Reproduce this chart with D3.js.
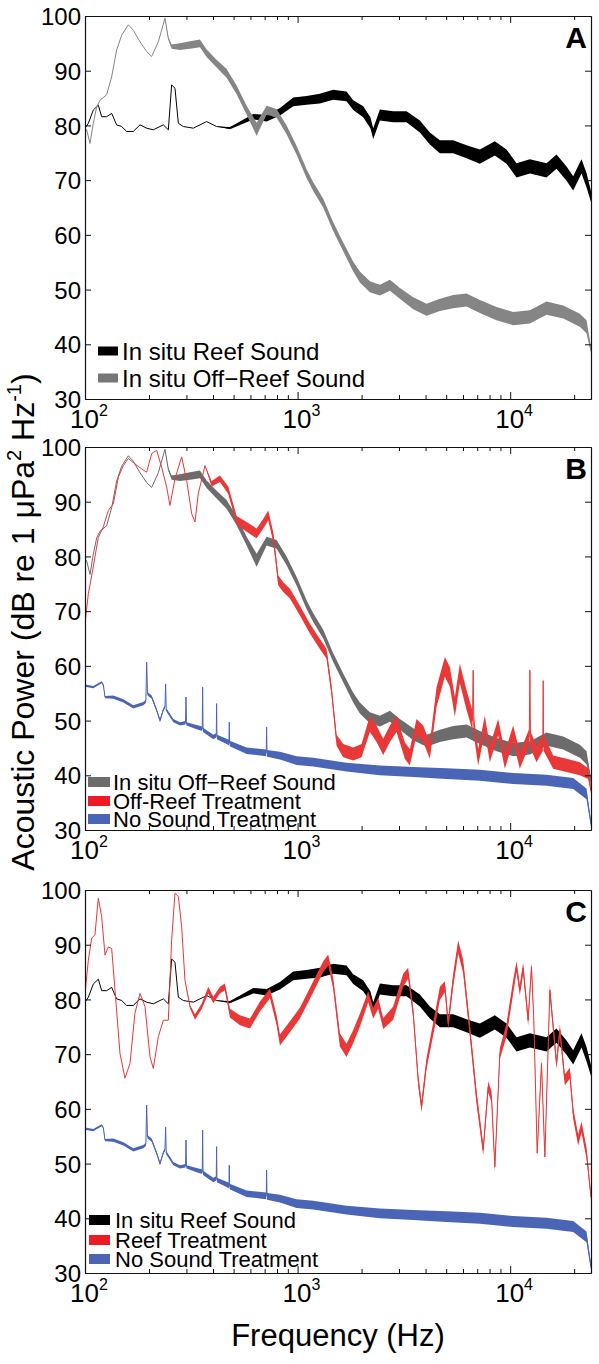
<!DOCTYPE html>
<html><head><meta charset="utf-8">
<script src="https://cdn.jsdelivr.net/npm/d3@7"></script>
<style>body{margin:0;background:#fff} text{font-family:"Liberation Sans", Arial, Helvetica, sans-serif;fill:#000}</style>
</head><body><svg id="c" width="599" height="1364"></svg>
<script>
// ---- data: [frequency Hz, level dB, noise half-spread dB] ----
const decades = [100, 1000, 10000];
const decadeExp = ["2", "3", "4"];
const yTicks = [30, 40, 50, 60, 70, 80, 90, 100];
const panelLetters = ["A", "B", "C"];

const reefSound = [[100,79.5,0],[103.7,80.4,0],[109.4,82.8,0],[115.5,83.7,0],[119.8,81.6,0],[126.4,81.6,0],[133.5,82.2,0],[140.9,80.1,0],[148.8,79.8,0],[157,78.9,0],[168.7,78.9,0],[181.4,80.1,0],[195,79.5,0],[209.6,79.2,0],[233.6,80.1,0],[246.6,79.2,0],[255.6,87.4,0],[265,86.8,0],[274.8,80.4,0],[290.1,79.8,0],[323.2,79.5,0],[373.4,80.7,0],[416,79.8,0],[480.6,79.5,0.2],[535.7,80.4,0.3],[618.9,81.6,0.5],[715,81.3,0.6],[826,82.5,0.7],[954.1,84.3,0.8],[1102,84.6,0.8],[1273,84.9,0.9],[1471,85.6,0.9],[1699,85.3,0.9],[1827,83.7,0.9],[2036,82.5,1],[2200,80.5,1],[2269,78.5,1],[2439,81.9,1],[2817,81.6,1],[3254,81.6,1],[3761,79.8,1.1],[4191,77.6,1.1],[4670,76.1,1.2],[5395,76.1,1.2],[6232,75.2,1.2],[7200,74.3,1.3],[8470,75.8,1.3],[9610,74.3,1.3],[10710,71.8,1.3],[12380,72.5,1.3],[14820,71.8,1.3],[16520,73.4,1.3],[18410,71.2,1.3],[19790,69.4,1.3],[21650,72.5,1.3],[22860,70,1.3],[24000,67,1]];

const offReefSound = [[100,79.5,0],[101.8,79.2,0],[105.6,76.7,0],[109.4,80.4,0],[113.5,83.4,0],[117.6,84.6,0],[126.4,85.6,0],[133.5,88.9,0],[140.9,93.8,0],[148.8,96.5,0],[159.9,98.4,0],[168.7,97.4,0],[181.4,95.3,0],[195,93.5,0],[205.9,92.6,0],[221.3,95.3,0],[237.8,99.6,0],[246.6,95.9,0.2],[255.6,94.4,0.4],[279.8,94.4,0.6],[311.8,94.7,0.7],[347.4,95,0.7],[373.4,93.2,0.7],[416,91.3,0.7],[463.6,89.5,0.8],[516.7,86.5,0.8],[575.8,82.8,0.8],[641.7,79.3,1.2],[715,82.8,0.8],[796.8,82.2,0.8],[887.8,79.2,0.8],[989,75.5,0.8],[1102,71.2,0.8],[1185,68.8,0.8],[1320,65.8,0.8],[1471,61.5,0.8],[1639,57.8,0.8],[1827,54.2,0.9],[1963,52.3,1],[2188,50.5,1],[2439,49.9,1],[2718,50.8,1],[3028,49.3,1],[3499,47.5,1.1],[4042,46.3,1.1],[4670,47.2,1.1],[5395,47.8,1.2],[6232,48.1,1.2],[7200,46.9,1.2],[8624,45.6,1.2],[10330,44.7,1.2],[12380,45,1.2],[14820,46.6,1.2],[17760,45.9,1.2],[21270,44.4,1.2],[22860,43.2,1.2],[24000,38.9,0.5]];

const noSound = [[100,56.4,0.2],[109.4,56.1,0.2],[119.8,57,0.2],[122,56.5,0.2],[124.2,54.3,0.2],[135.9,54.3,0.3],[151.5,53.6,0.3],[168.7,52.5,0.3],[188.1,53.1,0.3],[193.3,53.5,0.3],[195,60.7,0],[196.8,54.9,0.3],[205.9,54.3,0.3],[217.3,51.9,0.3],[225.3,50,0.3],[233.6,52,0.3],[237.8,52.5,0.2],[239.5,56.7,0],[241,52,0.3],[260.3,50,0.3],[279.8,49.4,0.3],[297,49.6,0.3],[298.6,54.3,0],[300.2,49.4,0.3],[335.1,48.8,0.4],[356,48.5,0.4],[357.6,56.1,0],[359.2,48.3,0.4],[401.3,47,0.4],[414.5,47.3,0.4],[416,53.1,0],[417.5,47,0.4],[475.5,46,0.5],[477.2,49.7,0],[479,45.8,0.5],[575.8,44.5,0.6],[712,44.1,0.6],[715,48.8,0],[718,44,0.6],[826,43.6,0.7],[989,42.7,0.8],[1185,42.4,0.8],[1699,41.5,0.8],[2439,40.9,0.9],[3499,40.6,0.9],[5018,40.3,1],[7200,40,1],[10330,39.4,1],[14820,39.1,1],[19790,38.5,1],[22860,36.6,1],[24000,31.1,0.5]];

const offReefTreatment = [[100,67.7,0],[103.7,73.2,0],[109.4,78.1,0],[115.5,83.5,0],[122,85.4,0],[128.7,88.4,0],[135.9,89.6,0],[143.5,94.5,0],[151.5,96.6,0],[159.9,97.9,0],[171.8,96.9,0],[184.7,96,0],[195,95.4,0],[205.9,98.8,0],[217.3,99.4,0],[229.4,96.3,0],[242.1,92.7,0],[251,89.3,0],[265,94.2,0],[284.9,98.2,0],[300.7,93.9,0],[317.5,87.8,0],[329.1,86.3,0],[341.2,91.5,0],[366.7,96.6,0],[394.1,93.3,0.5],[431.3,94.2,0.6],[472,92.1,0.7],[516.7,86.6,0.8],[575.8,85.4,0.9],[641.7,84.2,0.9],[689.8,86,0.9],[728,87.5,0.9],[768.6,83.5,0.9],[811.3,75.6,0.9],[856.4,74.4,0.9],[920.4,73.2,0.9],[1025.6,70.1,0.9],[1143,66.8,0.9],[1273.5,64,0.9],[1368.7,62.2,0.9],[1444.6,55.5,0.9],[1525,46.4,1],[1639,44.5,1.2],[1827,43.9,1.2],[1999,44.5,1.2],[2188,49.4,1.5],[2352,47.6,1.5],[2528,45.2,1.5],[2718,47.6,1.5],[2921,49.4,1.5],[3196,44.5,1.5],[3373,43.3,1.5],[3627,48.8,1.5],[3898,47.6,1.5],[4191,44.5,1.5],[4504,54.3,1.8],[4930,59.8,1.8],[5204,58,1.8],[5493,52.5,1.8],[5798,58.6,1.8],[6232,53.8,1.8],[6650,50,1.8],[6699,59.2,0],[6750,49,1.8],[7071,43.3,1.5],[7601,49.4,1.5],[8024,43.9,1.5],[8781,48.8,1.5],[9438,42.7,1.5],[10330,47.6,1.5],[11100,42.7,1.5],[12300,47,1.5],[12380,59.2,0],[12460,46.5,1.5],[13300,43.9,1.5],[14250,46,1.5],[14300,57.3,0],[14350,46,1.5],[15930,42.4,1.2],[18410,41.8,1.2],[21270,41.2,1.2],[23280,40.3,1],[24000,37.2,0.5]];

const reefTreatment = [[100,81.1,0],[103.7,87.2,0],[107.5,91.2,0],[111.4,91.8,0],[115.5,98.5,0],[119.8,95.1,0],[124.2,88.1,0],[128.7,89.6,0],[133.5,89.3,0],[138.4,81.7,0],[146.1,70.1,0],[154.2,65.6,0],[162.8,68.3,0],[171.8,77.5,0],[181.4,81.1,0],[191.5,78.7,0],[202.2,69.5,0],[209.6,67.4,0],[221.3,73.2,0],[233.6,76.2,0],[246.6,76.2,0],[255.6,90.9,0],[265,99.4,0],[274.8,98.8,0],[284.9,93.3,0],[295.3,83.5,0],[311.8,78.7,0.3],[329.1,76.8,0.5],[353.7,78.7,0.5],[380.2,81.7,0.6],[401.3,79.9,0.6],[431.3,81.7,0.6],[455.2,82.3,0.6],[480.6,77.5,0.8],[535.7,76.2,0.9],[597,75.6,0.9],[665.3,78.7,0.9],[741.4,81.1,0.9],[796.8,76.2,0.9],[826,72.6,1],[920.4,75,1],[1025.6,77.5,1],[1184.8,82.3,1],[1320.3,86,1],[1393.7,87.2,1],[1471,82.9,1],[1581,72.6,1.2],[1699,70.7,1.2],[1827,73.2,1.2],[1963.5,76.2,1.2],[2149,80.5,1],[2269,77.5,1],[2395,79.3,1],[2528,75.6,1],[2817,77.5,1.2],[3139,83.5,1.2],[3313,84.8,1],[3499,77.5,1],[3693,65.3,1],[3829,60.4,1],[4042,68.3,1],[4424,76.2,1.2],[4670,81.1,1.2],[4930,82.3,1],[5111,75.6,1],[5395,83.5,1.2],[5694,89.6,1.2],[6012,86,1.2],[6461,74.4,1.2],[6945,62.2,1.2],[7465,52.5,1],[7881,64,1],[8170,62.2,1],[8470,49.4,0.8],[8941,70.1,1],[9610,74.4,1.2],[10330,82.3,1.2],[10710,86,1],[11100,81.7,1],[11510,85.7,1],[12150,76.2,1],[12600,86,0.8],[12920,76.2,0.8],[13400,51.9,0.5],[14040,68.3,0.8],[14560,51.2,0.5],[15370,81.7,1],[16520,68.3,1],[17130,74.4,1],[18070,65.3,1],[19080,66.5,1],[19790,59.2,1],[20880,54.3,1],[21650,56.7,1],[22860,51.9,1],[24000,43.9,0.5]];

const seriesNames = {
  reef: "In situ Reef Sound",
  offReef: "In situ Off\u2212Reef Sound",
  offReefTreat: "Off-Reef Treatment",
  reefTreat: "Reef Treatment",
  noSound: "No Sound Treatment"
};

// ---- layout / style ----
const W = 599, H = 1364;
const left = 85, right = 591, ph = 383;
const panelTops = [16, 447, 890];
const colors = {black: "#000000", gray: "#858585", darkgray: "#6c6c6c", red: "#e83838", blue: "#4b65b6"};
const legendColors = {black: "#000000", gray: "#777777", darkgray: "#6c6c6c", red: "#ed1c24", blue: "#4b65b6"};

const panels = [
  {series: [[reefSound, "black", "reef"], [offReefSound, "gray", "offReef"]],
   legend: {font: 24, boxX: 98, boxW: 20, boxH: 9, textX: 122, rows: [335, 362]}},
  {series: [[offReefSound, "darkgray", "offReef"], [offReefTreatment, "red", "offReefTreat"], [noSound, "blue", "noSound"]],
   legend: {font: 22, boxX: 88, boxW: 22, boxH: 10, textX: 113, rows: [335, 354, 372]}},
  {series: [[reefSound, "black", "reef"], [reefTreatment, "red", "reefTreat"], [noSound, "blue", "noSound"]],
   legend: {font: 22, boxX: 89, boxW: 21, boxH: 10, textX: 115, rows: [330, 350, 369]}}
];

const svg = d3.select("#c");
svg.append("rect").attr("width", W).attr("height", H).attr("fill", "#fff");

const x = d3.scaleLog().domain([100, 24000]).range([left, right]);
const minors = [];
decades.forEach(d => { for (let m = 2; m <= 9; m++) { if (d * m <= 24000) minors.push(d * m); } });

panels.forEach((p, i) => {
  const top = panelTops[i];
  const y = d3.scaleLinear().domain([30, 100]).range([top + ph, top]);
  const g = svg.append("g");
  const clipId = "clip" + i;
  svg.append("clipPath").attr("id", clipId).append("rect")
    .attr("x", left).attr("y", top).attr("width", right - left).attr("height", ph);

  const plot = g.append("g").attr("clip-path", `url(#${clipId})`);
  const area = d3.area().x(d => x(d[0])).y0(d => y(d[1] - d[2])).y1(d => y(d[1] + d[2]));
  const line = d3.line().x(d => x(d[0])).y(d => y(d[1]));
  p.series.forEach(([data, col]) => {
    plot.append("path").datum(data).attr("d", area).attr("fill", colors[col]).attr("stroke", "none");
    plot.append("path").datum(data).attr("d", line).attr("fill", "none")
      .attr("stroke", colors[col]).attr("stroke-width", 1).attr("stroke-linejoin", "round");
  });

  // axes (inward ticks, boxed)
  const axStyle = sel => { sel.selectAll("path").attr("stroke", "#111").attr("stroke-width", 1.2);
                            sel.selectAll("line").attr("stroke", "#111").attr("stroke-width", 1); };
  g.append("g").attr("transform", `translate(0,${top + ph})`)
    .call(d3.axisBottom(x).tickValues(decades).tickSize(-7).tickSizeOuter(0).tickFormat("")).call(axStyle);
  g.append("g").attr("transform", `translate(0,${top + ph})`)
    .call(d3.axisBottom(x).tickValues(minors).tickSize(-4).tickSizeOuter(0).tickFormat("")).call(axStyle);
  g.append("g").attr("transform", `translate(0,${top})`)
    .call(d3.axisTop(x).tickValues(decades).tickSize(-7).tickSizeOuter(0).tickFormat("")).call(axStyle);
  g.append("g").attr("transform", `translate(0,${top})`)
    .call(d3.axisTop(x).tickValues(minors).tickSize(-4).tickSizeOuter(0).tickFormat("")).call(axStyle);
  const yl = g.append("g").attr("transform", `translate(${left},0)`)
    .call(d3.axisLeft(y).tickValues(yTicks).tickSize(-6).tickSizeOuter(0).tickPadding(4).tickFormat(d3.format("d")))
    .call(axStyle);
  yl.selectAll("text").attr("font-size", 24).attr("fill", "#000")
    .attr("font-family", '"Liberation Sans", Arial, sans-serif').attr("dy", "0.36em");
  g.append("g").attr("transform", `translate(${right},0)`)
    .call(d3.axisRight(y).tickValues(yTicks).tickSize(-6).tickSizeOuter(0).tickFormat("")).call(axStyle);

  // x tick labels 10^n
  decades.forEach((d, k) => {
    const t = g.append("text").attr("x", x(d) - 15).attr("y", top + ph + 29).attr("font-size", 26);
    t.append("tspan").text("10");
    t.append("tspan").attr("dy", -12).attr("font-size", 16).text(decadeExp[k]);
  });

  // panel letter
  g.append("text").attr("x", right - 4).attr("y", top + 32).attr("text-anchor", "end")
    .attr("font-size", 30).attr("font-weight", "bold").text(panelLetters[i]);

  // legend
  const L = p.legend;
  p.series.forEach(([data, col, key], k) => {
    const cy = top + L.rows[k];
    g.append("rect").attr("x", L.boxX).attr("y", cy - L.boxH / 2).attr("width", L.boxW).attr("height", L.boxH)
      .attr("fill", legendColors[col]);
    g.append("text").attr("x", L.textX).attr("y", cy + L.font * 0.36).attr("font-size", L.font).text(seriesNames[key]);
  });
});

// axis titles
const yt = svg.append("text").attr("transform", "translate(34,622) rotate(-90)")
  .attr("text-anchor", "middle").attr("font-size", 32);
yt.append("tspan").text("Acoustic Power (dB re 1 \u03bcPa");
yt.append("tspan").attr("dy", -13).attr("font-size", 20).text("2");
yt.append("tspan").attr("dy", 13).text(" Hz");
yt.append("tspan").attr("dy", -13).attr("font-size", 20).text("-1");
yt.append("tspan").attr("dy", 13).text(")");

svg.append("text").attr("x", 338).attr("y", 1346).attr("text-anchor", "middle")
  .attr("font-size", 31).text("Frequency (Hz)");
</script></body></html>
